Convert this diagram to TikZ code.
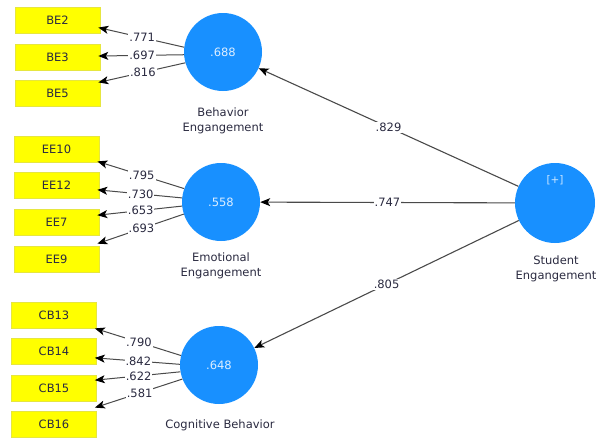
\documentclass[tikz,border=0pt]{standalone}
\usepackage{fontspec}
\setmainfont{DejaVu Sans}
\usetikzlibrary{arrows.meta}
\definecolor{lvblue}{HTML}{1890FF}
\definecolor{boxyellow}{HTML}{FFFF00}
\definecolor{boxedge}{HTML}{E6E640}
\definecolor{linegray}{HTML}{4A4A4A}
\definecolor{txtdark}{HTML}{2A2A40}
\tikzset{
  indbox/.style={draw=boxedge, fill=boxyellow, line width=0.6pt, minimum width=85pt, minimum height=26pt, inner sep=0pt, font=\fontsize{11.5}{13}\selectfont, text=txtdark},
  latent/.style={circle, fill=lvblue, minimum size=78pt, inner sep=0pt, font=\fontsize{11.5}{13}\selectfont, text=white!85!lvblue},
  lvname/.style={align=center, font=\fontsize{11.5}{15}\selectfont, text=txtdark, inner sep=0pt},
  loading/.style={draw=linegray, line width=1pt, -{Stealth[length=10pt,width=8pt,inset=2.5pt,color=black]}, shorten >=-2pt},
  pathline/.style={draw=linegray, line width=1.1pt, -{Stealth[length=10pt,width=8pt,inset=2.5pt,color=black]}},
  coef/.style={fill=white, inner sep=1pt, font=\fontsize{11.5}{13}\selectfont, text=txtdark}
}
\begin{document}
\begin{tikzpicture}[x=1pt,y=-1pt]
\useasboundingbox (0,0) rectangle (599,439);
% indicator boxes
\node[indbox] (BE2) at (57.5,20.5) {BE2};
\node[indbox] (BE3) at (57.5,57) {BE3};
\node[indbox] (BE5) at (57.5,93) {BE5};
\node[indbox] (EE10) at (56.5,149) {EE10};
\node[indbox] (EE12) at (56.5,185) {EE12};
\node[indbox] (EE7) at (56.5,222) {EE7};
\node[indbox] (EE9) at (56.5,259) {EE9};
\node[indbox] (CB13) at (54,315) {CB13};
\node[indbox] (CB14) at (54,351) {CB14};
\node[indbox] (CB15) at (54,388) {CB15};
\node[indbox] (CB16) at (54,424) {CB16};
% latent variables
\node[latent] (BE) at (223,52) {.688};
\node[latent] (EE) at (221,202) {.558};
\node[latent] (CB) at (219,365) {.648};
\node[latent, minimum size=80pt] (SE) at (555,203) {};
\node[font=\fontsize{10.5}{12}\selectfont, text=white!78!lvblue, inner sep=0pt] (plus) at (555,180) {[+]};
% names
\node[lvname] (BEn) at (223,120.5) {Behavior\\Engangement};
\node[lvname] (EEn) at (221,266) {Emotional\\Engangement};
\node[lvname] (CBn) at (220,425) {Cognitive Behavior};
\node[lvname] (SEn) at (556,268.5) {Student\\Engangement};
% loadings BE
\draw[loading] (BE.173) -- ([yshift=-7.5pt]BE2.east) node[coef,pos=0.5] {.771};
\draw[loading] (BE.184) -- ([yshift=1pt]BE3.east) node[coef,pos=0.5] {.697};
\draw[loading] (BE.196) -- ([yshift=11pt]BE5.east) node[coef,pos=0.5] {.816};
% loadings EE
\draw[loading] (EE.160) -- ([yshift=-13pt]EE10.east) node[coef,pos=0.5] {.795};
\draw[loading] (EE.174) -- ([yshift=-5pt]EE12.east) node[coef,pos=0.5] {.730};
\draw[loading] (EE.186) -- ([yshift=7pt]EE7.east) node[coef,pos=0.5] {.653};
\draw[loading] (EE.198) -- ([yshift=16pt]EE9.east) node[coef,pos=0.5] {.693};
% loadings CB
\draw[loading] (CB.166) -- ([yshift=-14pt]CB13.east) node[coef,pos=0.5] {.790};
\draw[loading] (CB.179) -- ([yshift=-7pt]CB14.east) node[coef,pos=0.5] {.842};
\draw[loading] (CB.190) -- ([yshift=8pt]CB15.east) node[coef,pos=0.5] {.622};
\draw[loading] (CB.201) -- ([yshift=17pt]CB16.east) node[coef,pos=0.5] {.581};
% structural paths
\draw[pathline] (SE) -- (BE) node[coef,pos=0.5] {.829};
\draw[pathline] (SE) -- (EE) node[coef,pos=0.5] {.747};
\draw[pathline] (SE) -- (CB) node[coef,pos=0.5] {.805};
\end{tikzpicture}
\end{document}
